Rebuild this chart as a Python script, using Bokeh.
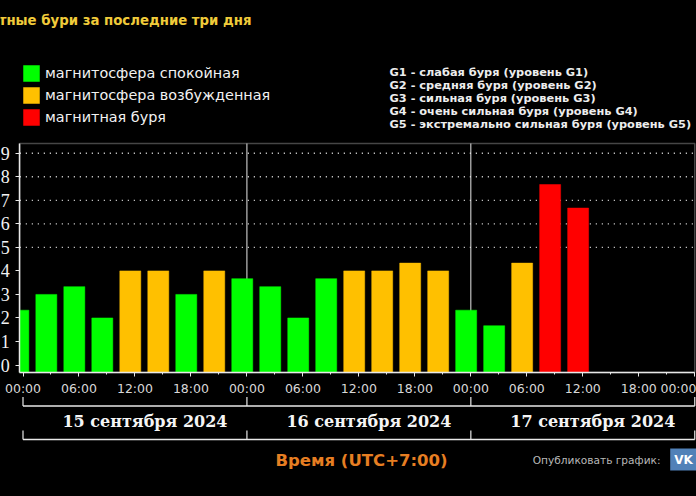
from bokeh.plotting import figure
from bokeh.models import (Range1d, FixedTicker, Label, Legend, LegendItem, ColumnDataSource, BoxAnnotation,
                          LinearAxis)
from bokeh.embed import file_html
from bokeh.resources import INLINE

kp_values = [2.33, 3, 3.33, 2, 4, 4, 3, 4, 3.67, 3.33, 2, 3.67, 4, 4, 4.33, 4, 2.33, 1.67, 4.33, 7.67, 6.67]
bar_hours = [h * 3 - 0.5 for h in range(21)]
status = ["q", "q", "q", "q", "a", "a", "q", "a", "q", "q", "q", "q", "a", "a", "a", "a", "q", "q", "a", "s", "s"]
status_colors = {"q": "#00FF00", "a": "#FFC000", "s": "#FF0000"}
legend_names = {"q": "магнитосфера спокойная", "a": "магнитосфера возбужденная", "s": "магнитная буря"}
g_lines = ["G1 - слабая буря (уровень G1)", "G2 - средняя буря (уровень G2)", "G3 - сильная буря (уровень G3)",
           "G4 - очень сильная буря (уровень G4)", "G5 - экстремально сильная буря (уровень G5)"]
day_labels = ["15 сентября 2024", "16 сентября 2024", "17 сентября 2024"]
day_edges = [0, 24, 48, 72]
y_ticks = list(range(10))
grid_ticks = [5, 6, 7, 8, 9]
x_major = list(range(0, 73, 6))
x_minor = list(range(0, 73, 3))
x_labels = {h: f"{h % 24:02d}:00" for h in x_major}

W, H = 696, 496
x0, pph = 22.5, 9.33
y_zero, ppu = 364.5, 23.53
L_px, T_px, B_px = 19.3, 143, 372
BAR_W = 2.25


def hx(px):
    return (px - x0) / pph


def vy(px):
    return (y_zero - px) / ppu


left, top, low = hx(L_px), vy(T_px), vy(B_px)
right = 72
LINE = "#E8E8E8"

p = figure(width=W, height=H, output_backend="svg", toolbar_location=None,
           x_range=Range1d(hx(0), hx(W)), y_range=Range1d(vy(H), vy(0)),
           x_axis_type=None, y_axis_type=None,
           min_border=0, background_fill_color="black", border_fill_color="black", outline_line_color=None)
p.styles = {"position": "absolute", "left": "0px", "top": "0px", "background-color": "black"}

xax = LinearAxis(fixed_location=low, bounds=(left, right), ticker=FixedTicker(ticks=x_major, minor_ticks=x_minor),
                 major_label_overrides=x_labels, major_label_text_color="#D8D8D8",
                 major_label_text_font="DejaVu Sans", major_label_text_font_size="12.5px", major_label_standoff=4,
                 axis_line_color=LINE, axis_line_width=1.5, major_tick_line_color=LINE, minor_tick_line_color=LINE,
                 major_tick_out=4, major_tick_in=0, minor_tick_out=2, minor_tick_in=0)
p.add_layout(xax, "below")
yax = LinearAxis(fixed_location=left, bounds=(low, top), ticker=FixedTicker(ticks=y_ticks),
                 major_label_text_font="Liberation Serif", major_label_text_font_size="18px",
                 major_label_text_color="#F2F2F2", major_label_standoff=6,
                 axis_line_color=LINE, axis_line_width=1.5, major_tick_line_color=LINE,
                 major_tick_out=4, major_tick_in=0, minor_tick_line_color=None)
p.add_layout(yax, "left")

p.add_layout(BoxAnnotation(left=left, right=right, top=top, bottom=low, fill_alpha=0, line_color=LINE,
                           line_width=1.5, level="underlay"))
p.segment(x0=[left] * 5, x1=[right] * 5, y0=grid_ticks, y1=grid_ticks, line_color="#F0F0F0", line_width=1.3,
          line_dash="1 5", level="underlay")
p.segment(x0=day_edges[1:3], x1=day_edges[1:3], y0=[low, low], y1=[top, top], line_color=LINE, line_width=1,
          level="underlay")

items = []
for key in ["q", "a", "s"]:
    colour = status_colors[key]
    idx = [i for i, s in enumerate(status) if s == key]
    src = ColumnDataSource(dict(left=[max(bar_hours[i] - BAR_W / 2, left) for i in idx],
                                right=[bar_hours[i] + BAR_W / 2 for i in idx],
                                top=[kp_values[i] for i in idx]))
    r = p.quad(left="left", right="right", top="top", bottom=low, source=src,
               fill_color=colour, line_color=colour, line_width=0.5)
    items.append(LegendItem(label=legend_names[key], renderers=[r]))

legend = Legend(items=items, location=(21, H - 127), orientation="vertical", background_fill_alpha=0,
                border_line_alpha=0, glyph_width=20, glyph_height=20, label_standoff=4, spacing=2,
                margin=0, padding=0, label_text_color="#F2F2F2", label_text_font="DejaVu Sans",
                label_text_font_size="14.4px", label_height=20)
p.add_layout(legend)


def text(x, y, t, color, size, font="DejaVu Sans", style="normal", align="left", xu="canvas", yu="canvas", **kw):
    p.add_layout(Label(x=x, y=y, x_units=xu, y_units=yu, text=t, text_color=color, text_font_size=size,
                       text_font=font, text_font_style=style, text_align=align, text_baseline="middle", **kw))


text(251, 20, "тные бури за последние три дня", "#F0CB3A", "13.3px", style="bold", align="right")
for i, g in enumerate(g_lines):
    text(389, 71 + i * 13.2, g, "#EDEDED", "11.35px", style="bold")

for y_line, y_tick in [(405.5, 396.5), (439, 430)]:
    p.segment(x0=[day_edges[0]], x1=[day_edges[-1]], y0=[vy(y_line)], y1=[vy(y_line)], line_color=LINE, line_width=1.5)
    p.segment(x0=day_edges, x1=day_edges, y0=[vy(y_tick)] * 4, y1=[vy(y_line)] * 4, line_color=LINE, line_width=1.2)

for i, d in enumerate(day_labels):
    text((day_edges[i] + day_edges[i + 1]) / 2 + 10 / pph, 421, d, "#F5F5F5", "16px", font="DejaVu Serif",
         style="bold", align="center", xu="data")

text(361, 460, "Время (UTC+7:00)", "#E67E22", "16.5px", style="bold", align="center")
text(660, 459, "Опубликовать график:", "#B8B8B8", "10.6px", align="right")
text(683, 459, "VK", "#FFFFFF", "12px", style="bold", align="center",
     background_fill_color="#5181B8", padding=4)

open("out.html", "w").write(file_html(p, INLINE))
